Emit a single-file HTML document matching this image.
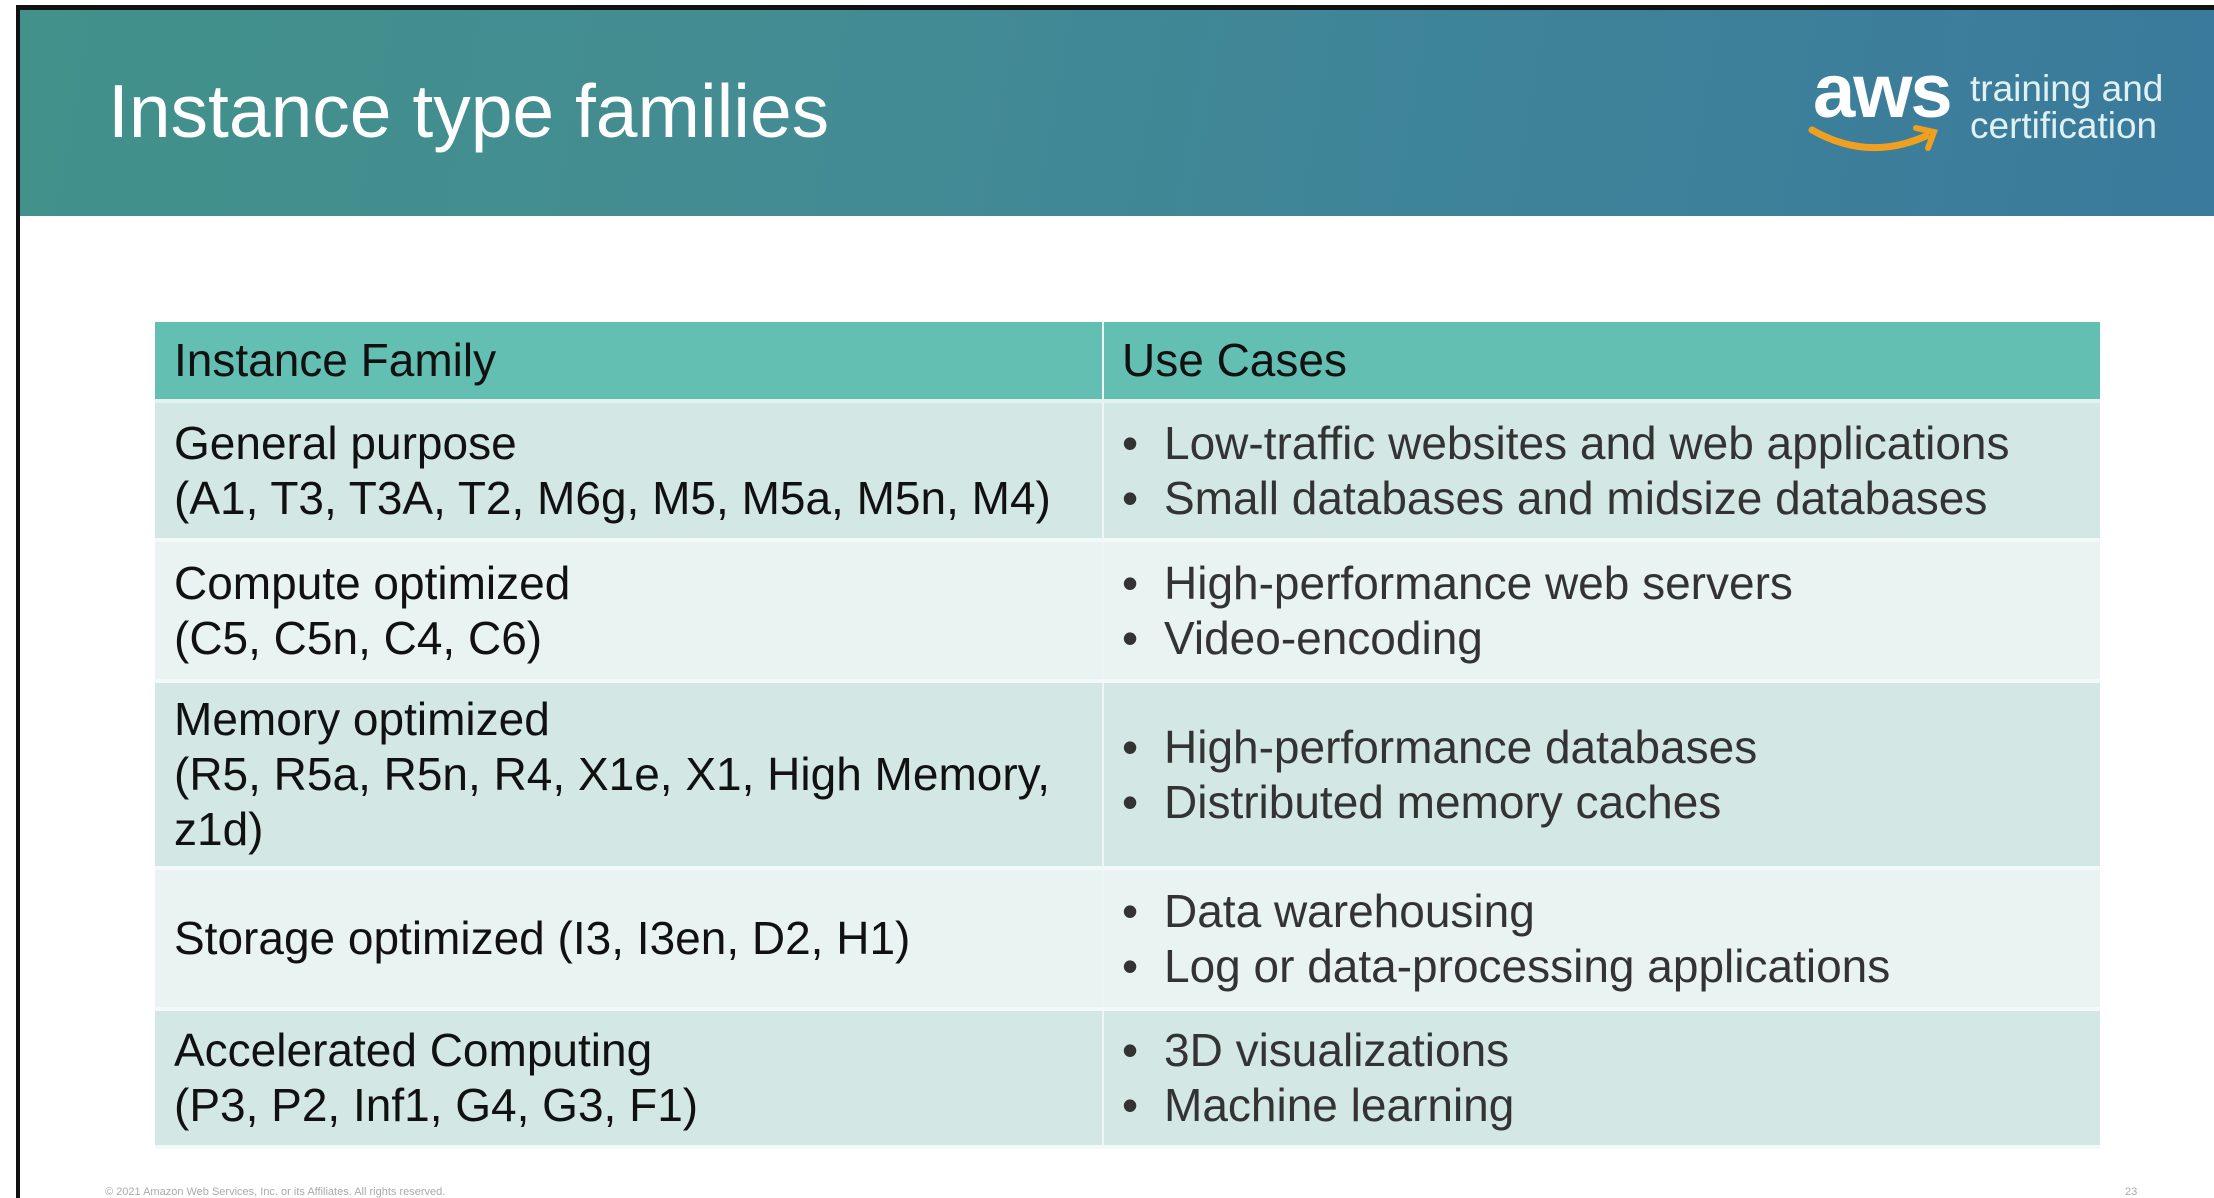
<!DOCTYPE html>
<html><head><meta charset="utf-8"><style>
*{margin:0;padding:0;box-sizing:border-box}
body{width:2214px;height:1198px;background:#fff;position:relative;overflow:hidden;font-family:"Liberation Sans",sans-serif}
.topline{position:absolute;left:16px;top:5px;width:2198px;height:5px;background:#111}
.leftline{position:absolute;left:16px;top:5px;width:4px;height:1193px;background:#111}
.hdr{position:absolute;left:20px;top:10px;width:2194px;height:206px;background:linear-gradient(100deg,#42918a 0%,#438c93 35%,#3f8598 60%,#3a7a9c 100%)}
.title{position:absolute;left:108px;top:68px;font-size:75px;color:#fff;letter-spacing:0px}
.aws{position:absolute;left:1813px;top:48px;font-size:76px;color:#fff;font-weight:bold;letter-spacing:-2px}
.tc{position:absolute;left:1970px;top:70px;font-size:37px;line-height:37px;color:#dff1f3}
table{position:absolute;left:155px;top:322px;width:1945px;border-collapse:collapse}
td{font-size:46px;color:#111;vertical-align:middle;padding:0 0 0 19px;line-height:55px}
td.l{width:948px;border-right:2px solid #eef6f5}
tr.h td{background:#63bfb2;height:79px;border-bottom:4px solid #e4f2f0}
tr.d td{background:#d3e8e5;border-bottom:4px solid #f3f9f8}
tr.e td{background:#e9f3f2;border-bottom:4px solid #f3f9f8}
td.r{padding-left:18px;color:#333}
.b{display:block;padding-left:42px;position:relative}
.b:before{content:"•";position:absolute;left:0;top:0}
.foot{position:absolute;left:105px;top:1186px;font-size:11px;color:#aaa}
.pn{position:absolute;left:2125px;top:1186px;font-size:11px;color:#aaa}
</style></head><body>
<div class="hdr"></div>
<div class="topline"></div><div class="leftline"></div>
<div class="title">Instance type families</div>
<div class="aws">aws</div>
<svg style="position:absolute;left:1808px;top:122px" width="140" height="40"><path d="M4 8 Q60 40 118 14" stroke="#f0a020" stroke-width="7" fill="none" stroke-linecap="round"/><path d="M108 6 L126 10 L120 26" stroke="#f0a020" stroke-width="6" fill="none" stroke-linecap="round"/></svg>
<div class="tc">training and<br>certification</div>
<table>
<tr class="h"><td class="l">Instance Family</td><td class="r" style="color:#111">Use Cases</td></tr>
<tr class="d" style="height:139px"><td class="l">General purpose<br>(A1, T3, T3A, T2, M6g, M5, M5a, M5n, M4)</td><td class="r"><span class="b">Low-traffic websites and web applications</span><span class="b">Small databases and midsize databases</span></td></tr>
<tr class="e" style="height:141px"><td class="l">Compute optimized<br>(C5, C5n, C4, C6)</td><td class="r"><span class="b">High-performance web servers</span><span class="b">Video-encoding</span></td></tr>
<tr class="d" style="height:187px"><td class="l">Memory optimized<br>(R5, R5a, R5n, R4, X1e, X1, High Memory,<br>z1d)</td><td class="r"><span class="b">High-performance databases</span><span class="b">Distributed memory caches</span></td></tr>
<tr class="e" style="height:141px"><td class="l">Storage optimized (I3, I3en, D2, H1)</td><td class="r"><span class="b">Data warehousing</span><span class="b">Log or data-processing applications</span></td></tr>
<tr class="d" style="height:138px"><td class="l">Accelerated Computing<br>(P3, P2, Inf1, G4, G3, F1)</td><td class="r"><span class="b">3D visualizations</span><span class="b">Machine learning</span></td></tr>
</table>
<div class="foot">© 2021 Amazon Web Services, Inc. or its Affiliates. All rights reserved.</div>
<div class="pn">23</div>
</body></html>
